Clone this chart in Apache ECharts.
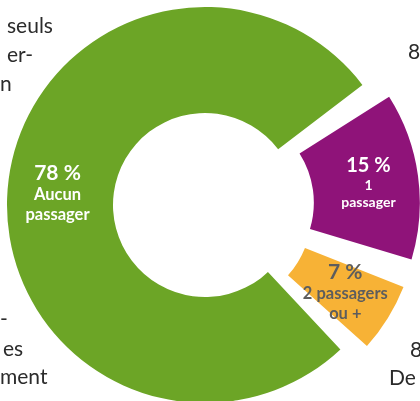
<!DOCTYPE html>
<html>
<head>
<meta charset="utf-8">
<script src="https://cdn.jsdelivr.net/npm/echarts@6/dist/echarts.min.js"></script>
<style>
  html, body { margin: 0; padding: 0; background: #fff; }
  #chart { width: 420px; height: 401px; }
</style>
</head>
<body>
<div id="chart"></div>
<script>
// share of trips by number of passengers
const categories = ['Aucun\npassager', '1\npassager', '2 passagers\nou +'];
const shares = [78, 15, 7];
const colors = ['#6ca526', '#8f1379', '#f7b236'];
const labelColors = ['#ffffff', '#ffffff', '#5d5d5d'];
const exploded = [false, true, true];

// bits of the surrounding article text, cut off by the frame
const sideText = ['seuls', 'er-', 'n', '-', 'es', 'ment', '8', '8', 'De'];

const chart = echarts.init(document.getElementById('chart'));

function bodyText(str, x, y) {
  return {
    type: 'text',
    x: x,
    y: y,
    style: {
      text: str,
      fill: '#2b2b2b',
      font: '21px Lato',
      textVerticalAlign: 'middle'
    }
  };
}

const nameSize = [16.5, 14, 16.5];
const pctSize = [21, 20, 21];

chart.setOption({
  backgroundColor: '#fff',
  animation: false,
  graphic: [
    bodyText(sideText[0], 7, 26),
    bodyText(sideText[1], 7, 55),
    bodyText(sideText[2], 0, 84),
    bodyText(sideText[3], 0, 319),
    bodyText(sideText[4], 3, 349),
    bodyText(sideText[5], 0, 377),
    bodyText(sideText[6], 408, 52),
    bodyText(sideText[7], 410, 350),
    bodyText(sideText[8], 389, 378)
  ],
  series: [{
    type: 'pie',
    center: [205, 205],
    radius: [92, 198],
    startAngle: -44.35,
    padAngle: 5,
    selectedMode: 'multiple',
    selectedOffset: 17,
    emphasis: { disabled: true },
    select: { itemStyle: { borderWidth: 0 } },
    label: {
      show: true,
      position: 'inside',
      fontFamily: 'Lato',
      fontWeight: 'bold',
      formatter: p => '{pct|' + p.value + ' %}\n{name|' + p.name + '}'
    },
    labelLine: { show: false },
    data: shares.map((v, i) => ({
      name: categories[i],
      value: v,
      selected: exploded[i],
      itemStyle: { color: colors[i] },
      label: {
        color: labelColors[i],
        rich: {
          pct: { fontSize: pctSize[i], fontWeight: 'bold', fontFamily: 'Lato', lineHeight: 24, color: labelColors[i] },
          name: { fontSize: nameSize[i], fontWeight: 'bold', fontFamily: 'Lato', lineHeight: nameSize[i] + 3, color: labelColors[i] }
        }
      },
      select: { label: { color: labelColors[i] } }
    }))
  }]
});
</script>
</body>
</html>
